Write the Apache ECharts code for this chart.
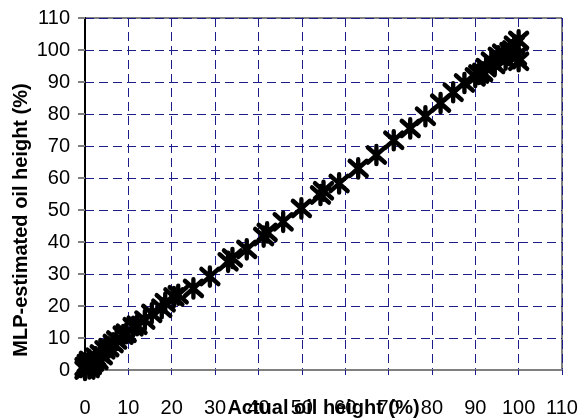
<!DOCTYPE html>
<html>
<head>
<meta charset="utf-8">
<script src="https://cdn.jsdelivr.net/npm/echarts@6/dist/echarts.min.js"></script>
<style>
html,body{margin:0;padding:0;background:#fff;}
#chart{width:582px;height:420px;}
</style>
</head>
<body>
<div id="chart"></div>
<script>
// Actual oil height (%)
var actualHeight = [0,0,0.5,1,1,1.5,2,2.5,3,3.5,4,4.6,5.5,6.5,7.3,8.8,9.5,11.1,12,13.8,15.4,17.7,18.5,20.5,21.5,25,28.8,33,34,37.3,41.2,42,45.7,49.9,54.3,55,58.6,63,67.2,71.2,75,78.5,82,84.9,87.5,90,90.8,91.7,92.5,93.7,94.5,95.3,96.3,97,98,98.6,99.5,100,100,99];
// MLP-estimated oil height (%)
var estimatedHeight = [0,1,2,0.5,3,1.5,2.5,4,3,5,4.5,6.3,7,8.3,9.4,10.9,11.5,13.5,14,15.6,17.7,19.3,21,22.8,23.5,25.5,29.2,33.8,35,37.7,41.7,43,46.3,50.5,54.7,56,58.3,63,67.2,71.8,75.5,79.3,83.4,86.8,89.7,91.6,92.5,93,94.5,96.5,95.5,98,99,97,99.5,100,98,103,96.5,101.5];
var xTicks = [0,10,20,30,40,50,60,70,80,90,100,110];
var yTicks = [0,10,20,30,40,50,60,70,80,90,100,110];
var xTitle = 'Actual oil height (%)';
var yTitle = 'MLP-estimated oil height (%)';

var points = actualHeight.map(function(v,i){return [v, estimatedHeight[i]];});
var chart = echarts.init(document.getElementById('chart'), null, {renderer:'canvas'});
var font = '"Liberation Sans", Arial, sans-serif';
var gridColor = '#1c1c8a';
chart.setOption({
  animation:false,
  backgroundColor:'#fff',
  grid:{left:85, right:20, top:18, bottom:50, show:true, borderColor:'#000', borderWidth:1, containLabel:false, outerBoundsMode:'none'},
  xAxis:{
    type:'value', min:xTicks[0], max:xTicks[xTicks.length-1], interval:10,
    name:xTitle, nameLocation:'middle', nameGap:28, nameMoveOverlap:false,
    nameTextStyle:{fontFamily:font, fontWeight:'bold', fontSize:20, color:'#000', verticalAlign:'top'},
    axisLine:{show:true, onZero:false, lineStyle:{color:'#808080', width:2}},
    axisTick:{show:true, inside:false, length:5, lineStyle:{color:gridColor, width:1}},
    axisLabel:{fontFamily:font, fontSize:20, color:'#000', margin:28, showMaxLabel:true, showMinLabel:true},
    splitLine:{show:true, lineStyle:{color:gridColor, type:[9,5], width:1}}
  },
  yAxis:{
    type:'value', min:yTicks[0], max:yTicks[yTicks.length-1], interval:10,
    axisLine:{show:true, onZero:false, lineStyle:{color:'#000', width:2}},
    axisTick:{show:true, inside:false, length:7, lineStyle:{color:'#808080', width:2}},
    axisLabel:{fontFamily:font, fontSize:20, color:'#000', margin:15, showMaxLabel:true, showMinLabel:true},
    splitLine:{show:true, lineStyle:{color:gridColor, type:[9,5], width:1}}
  },
  graphic:[{
    type:'text', x:21, y:220, rotation:Math.PI/2,
    style:{text:yTitle, font:'bold 20px "Liberation Sans", Arial, sans-serif', fill:'#000', align:'center', verticalAlign:'middle'}
  }],
  series:[{
    type:'scatter',
    data:points,
    symbol:'path://M0,0L10,10M0,10L10,0M5,-1L5,11',
    symbolSize:[17,18],
    clip:false,
    itemStyle:{color:'rgba(0,0,0,0)', borderColor:'#000', borderWidth:4.5, borderCap:'round', borderJoin:'round', opacity:1}
  }]
});
</script>
</body>
</html>
